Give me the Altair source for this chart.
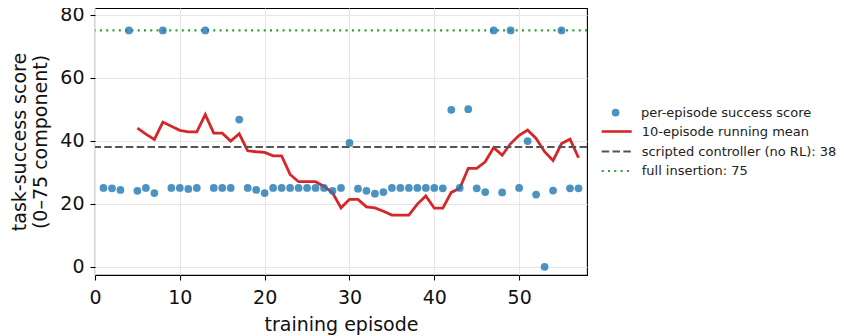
import altair as alt
import pandas as pd

episodes = list(range(1, 58))
scores = [25, 24.9, 24.4, 75, 24.1, 25, 23.4, 75, 25, 25,
          24.7, 25, 75, 25, 25, 25, 46.7, 25, 24.4, 23.4,
          25, 25, 25, 25, 25, 25, 25, 24.1, 25, 39.3,
          24.8, 24.1, 23.2, 23.7, 25, 25, 25, 25, 25, 25,
          24.9, 49.8, 25, 50, 24.9, 23.7, 75, 23.6, 75, 25,
          39.9, 22.9, 0, 24.2, 75, 24.9, 24.9]

mean_episodes = list(range(5, 58))
mean_values = [44.0, 42.1, 40.4, 45.9, 44.6, 43.3, 42.8, 42.8, 48.3, 42.4,
               42.4, 39.9, 42.2, 36.8, 36.5, 36.3, 35.2, 35.2, 29.3, 27.0,
               27.0, 27.0, 25.5, 23.5, 18.7, 21.4, 21.4, 19.0, 18.7, 17.6,
               16.4, 16.4, 16.4, 19.9, 22.5, 18.6, 18.6, 23.6, 24.9, 31.2,
               31.2, 33.3, 37.8, 35.4, 39.1, 41.7, 43.4, 40.7, 36.5, 33.7,
               39.1, 40.5, 34.6]

point_label = "per-episode success score"
mean_label = "10-episode running mean"
scripted_label = "scripted controller (no RL): 38"
full_label = "full insertion: 75"
scripted_value = 38
full_value = 75

pts = pd.DataFrame({"episode": episodes, "score": scores, "series": point_label})
mean_df = pd.DataFrame({"episode": mean_episodes, "score": mean_values, "series": mean_label})
scripted_df = pd.DataFrame({"score": [scripted_value], "series": [scripted_label]})
full_df = pd.DataFrame({"score": [full_value], "series": [full_label]})

x_scale = alt.Scale(domain=[0, 58], nice=False, zero=False)
y_scale = alt.Scale(domain=[-2.6, 82.1], nice=False, zero=False)

x_enc = alt.X("episode:Q", scale=x_scale,
              axis=alt.Axis(values=[0, 10, 20, 30, 40, 50], title="training episode", format="d"))
y_enc = alt.Y("score:Q", scale=y_scale,
              axis=alt.Axis(values=[0, 20, 40, 60, 80], title=["task-success score", "(0–75 component)"]))

LX = 505.2
common = dict(title=None, orient="none", symbolType="stroke", symbolSize=900,
              labelFontSize=13, labelOffset=8.5, padding=0,
              labelFont="DejaVu Sans", labelColor="#222222", labelLimit=400)

RED, GRAY, GREEN, BLUE = "#d62728", "#555555", "#2ca02c", "#1f77b4"
DASH, DOT = [7.5, 3.3], [2, 4.3]

line = alt.Chart(mean_df).mark_line(strokeWidth=2.8).encode(
    x=x_enc, y=y_enc,
    stroke=alt.Stroke("series:N", scale=alt.Scale(domain=[mean_label], range=[RED]),
                      legend=alt.Legend(legendX=LX, legendY=107, symbolStrokeWidth=2.6, **common)),
)

scripted = alt.Chart(scripted_df).mark_rule(strokeWidth=2.1, stroke=GRAY).encode(
    y=y_enc,
    strokeDash=alt.StrokeDash("series:N", scale=alt.Scale(domain=[scripted_label], range=[DASH]),
                              legend=alt.Legend(legendX=LX, legendY=127, symbolStrokeWidth=2.1,
                                                symbolStrokeColor=GRAY, **common)),
)

full = alt.Chart(full_df).mark_rule(strokeWidth=2.1, stroke=GREEN, strokeDash=DOT).encode(
    y=y_enc,
    opacity=alt.Opacity("series:N", scale=alt.Scale(domain=[full_label], range=[1]),
                        legend=alt.Legend(legendX=LX, legendY=146.5, symbolStrokeWidth=2.1,
                                          symbolStrokeColor=GREEN, symbolDash=DOT, **common)),
)

points = alt.Chart(pts).mark_circle(size=60, opacity=0.8).encode(
    x=x_enc, y=y_enc,
    fill=alt.Fill("series:N", scale=alt.Scale(domain=[point_label], range=[BLUE]),
                  legend=alt.Legend(title=None, orient="none", legendX=514.1, legendY=98.1,
                                    symbolType="circle", symbolSize=60, symbolOpacity=0.8,
                                    labelFontSize=13, labelOffset=18.8, padding=0,
                                    labelFont="DejaVu Sans", labelColor="#222222", labelLimit=400)),
)

chart = alt.layer(line, scripted, full, points).properties(
    width=492, height=267,
    autosize=alt.AutoSizeParams(type="none"),
    padding={"left": 87, "top": 0, "right": 249, "bottom": 61},
    background="white",
).configure_view(
    stroke="black", strokeWidth=1.1,
).configure_axis(
    labelFont="DejaVu Sans", titleFont="DejaVu Sans",
    labelFontSize=19, titleFontSize=19, titleFontWeight="normal",
    labelColor="#111111", titleColor="#111111", labelFlush=False,
    domain=False, tickColor="black", tickSize=5, tickWidth=1.1,
    grid=True, gridColor="#e6e6e6", gridWidth=1,
).configure_axisY(
    titlePadding=9.5, titleLineHeight=21, labelPadding=6,
).configure_axisX(
    titlePadding=8, labelPadding=8,
)

chart.save("out.html", embed_options={"renderer": "svg", "actions": False})
